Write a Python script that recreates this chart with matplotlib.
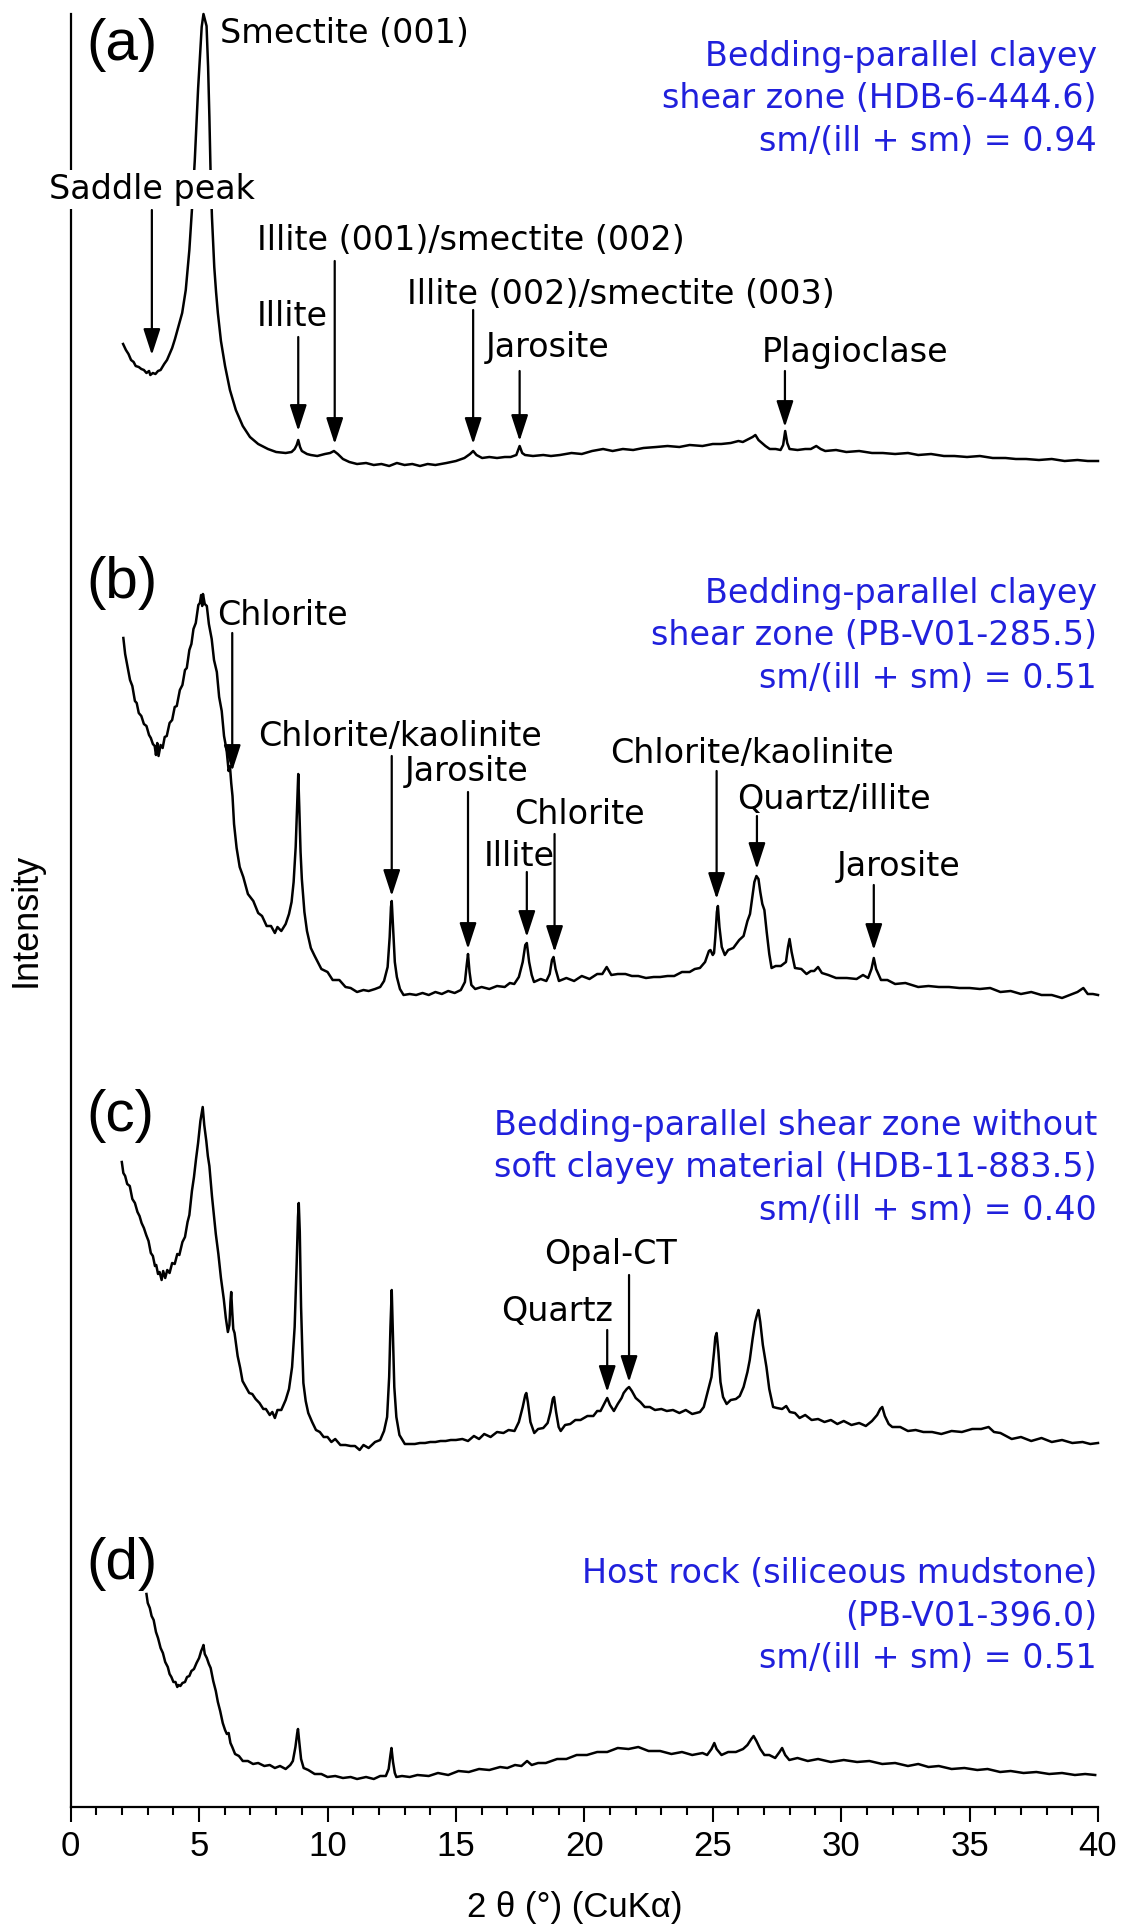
import matplotlib
matplotlib.use("Agg")
import matplotlib.pyplot as plt
from matplotlib.ticker import MultipleLocator

# ---------------- data (2-theta in degrees, stacked intensity in plot units) ----------------
PATTERN_A = [
    (2.04, 1463), (2.15, 1457), (2.25, 1453), (2.35, 1447), (2.45, 1445), (2.53, 1441), (2.65, 1440),
    (2.75, 1438), (2.85, 1437), (2.95, 1434), (3.05, 1436), (3.1, 1432), (3.2, 1434), (3.3, 1433),
    (3.4, 1436), (3.5, 1437), (3.64, 1443), (3.75, 1447), (3.85, 1453), (3.95, 1459), (4.06, 1468),
    (4.2, 1481), (4.34, 1494), (4.48, 1517), (4.62, 1557), (4.72, 1597), (4.83, 1646), (4.96, 1718),
    (5.10, 1780), (5.17, 1793), (5.29, 1781), (5.35, 1740), (5.40, 1690), (5.45, 1630), (5.5, 1590),
    (5.59, 1540), (5.66, 1515), (5.73, 1494), (5.85, 1466), (6.01, 1441), (6.2, 1417), (6.43, 1397),
    (6.7, 1381), (6.98, 1370), (7.3, 1363), (7.68, 1358), (8.0, 1355), (8.37, 1354), (8.6, 1355),
    (8.72, 1358), (8.8, 1362), (8.86, 1367), (8.93, 1360), (9.0, 1356), (9.2, 1353), (9.35, 1352),
    (9.6, 1351), (9.9, 1353), (10.1, 1354), (10.25, 1356), (10.4, 1353), (10.6, 1348), (10.85, 1345),
    (11.15, 1343), (11.5, 1344), (11.8, 1342), (12.1, 1343), (12.4, 1341), (12.7, 1344), (13.0, 1342),
    (13.3, 1343), (13.6, 1341), (13.9, 1343), (14.2, 1342), (14.63, 1344), (15.0, 1346), (15.33, 1349),
    (15.55, 1353), (15.67, 1356), (15.8, 1352), (16.02, 1349), (16.3, 1350), (16.6, 1349), (16.9, 1350),
    (17.13, 1350), (17.35, 1352), (17.48, 1361), (17.58, 1354), (17.69, 1352), (18.0, 1351), (18.4, 1352),
    (18.7, 1351), (19.05, 1352), (19.5, 1354), (19.9, 1353), (20.3, 1356), (20.73, 1358), (21.1, 1356),
    (21.5, 1358), (21.9, 1357), (22.3, 1359), (22.8, 1360), (23.24, 1361), (23.7, 1360), (24.1, 1362),
    (24.6, 1361), (25.0, 1363), (25.33, 1363), (25.7, 1364), (26.0, 1366), (26.17, 1365), (26.4, 1368),
    (26.55, 1370), (26.66, 1372), (26.78, 1367), (26.87, 1365), (27.05, 1361), (27.22, 1358), (27.45, 1358),
    (27.64, 1357), (27.74, 1362), (27.82, 1376), (27.9, 1364), (27.99, 1358), (28.3, 1357), (28.6, 1358),
    (28.82, 1358), (29.03, 1361), (29.2, 1358), (29.38, 1356), (29.8, 1357), (30.2, 1355), (30.7, 1356),
    (31.2, 1354), (31.62, 1354), (32.1, 1353), (32.6, 1354), (33.0, 1352), (33.5, 1353), (34.0, 1351),
    (34.41, 1351), (34.9, 1350), (35.4, 1351), (35.9, 1349), (36.4, 1349), (36.8, 1348), (37.2, 1348),
    (37.7, 1347), (38.2, 1348), (38.7, 1346), (39.2, 1347), (39.6, 1346), (40.0, 1346),
]

PATTERN_B = [
    (2.05, 1169), (2.12, 1153), (2.2, 1142), (2.31, 1127), (2.4, 1121), (2.5, 1106), (2.57, 1104),
    (2.65, 1094), (2.75, 1091), (2.85, 1083), (2.95, 1081), (3.05, 1072), (3.12, 1069), (3.2, 1063),
    (3.27, 1061), (3.32, 1052), (3.37, 1064), (3.42, 1051), (3.5, 1062), (3.58, 1059), (3.66, 1070),
    (3.74, 1071), (3.85, 1084), (3.95, 1087), (4.05, 1100), (4.13, 1101), (4.25, 1117), (4.35, 1122),
    (4.45, 1137), (4.52, 1139), (4.62, 1157), (4.7, 1163), (4.78, 1178), (4.87, 1184), (4.97, 1202),
    (5.03, 1204), (5.08, 1212), (5.12, 1201), (5.15, 1213), (5.22, 1203), (5.30, 1201), (5.38, 1183),
    (5.49, 1168), (5.58, 1147), (5.69, 1135), (5.78, 1110), (5.88, 1096), (5.97, 1071), (6.07, 1057),
    (6.15, 1036), (6.2, 1041), (6.25, 1024), (6.3, 1011), (6.36, 983), (6.46, 959), (6.58, 940),
    (6.72, 930), (6.9, 913), (7.11, 906), (7.3, 894), (7.45, 891), (7.63, 881), (7.8, 881), (7.95, 874),
    (8.05, 880), (8.2, 876), (8.37, 883), (8.5, 893), (8.6, 905), (8.68, 925), (8.76, 960), (8.82, 1005),
    (8.86, 1033), (8.9, 1000), (8.95, 955), (9.0, 928), (9.1, 895), (9.2, 876), (9.35, 859), (9.5, 851),
    (9.76, 838), (10.0, 835), (10.2, 827), (10.46, 827), (10.7, 820), (10.9, 819), (11.15, 815),
    (11.4, 817), (11.6, 816), (11.85, 818), (12.05, 820), (12.2, 826), (12.34, 840), (12.42, 870),
    (12.47, 900), (12.5, 906), (12.55, 880), (12.62, 845), (12.7, 830), (12.82, 818), (12.96, 812),
    (13.2, 813), (13.45, 812), (13.7, 814), (13.94, 812), (14.2, 815), (14.45, 813), (14.7, 816),
    (14.95, 814), (15.19, 817), (15.35, 825), (15.42, 842), (15.47, 853), (15.53, 835), (15.6, 822),
    (15.75, 818), (16.0, 820), (16.3, 818), (16.6, 821), (16.9, 820), (17.1, 824), (17.27, 823),
    (17.45, 830), (17.6, 845), (17.7, 862), (17.76, 864), (17.85, 845), (17.95, 832), (18.04, 825),
    (18.3, 828), (18.52, 826), (18.65, 833), (18.74, 847), (18.8, 850), (18.88, 838), (19.01, 826),
    (19.3, 829), (19.6, 826), (19.9, 831), (20.2, 828), (20.5, 833), (20.7, 833), (20.87, 840),
    (21.05, 832), (21.3, 833), (21.6, 833), (21.85, 831), (22.1, 831), (22.4, 829), (22.7, 830),
    (22.95, 830), (23.24, 831), (23.5, 831), (23.8, 835), (24.1, 835), (24.3, 838), (24.5, 839),
    (24.7, 845), (24.85, 856), (24.91, 857), (25.0, 852), (25.05, 854), (25.1, 870), (25.16, 895),
    (25.2, 901), (25.26, 880), (25.35, 860), (25.47, 852), (25.6, 857), (25.8, 859), (26.03, 867),
    (26.2, 871), (26.35, 886), (26.45, 893), (26.55, 912), (26.62, 925), (26.7, 931), (26.78, 928),
    (26.85, 915), (26.93, 903), (27.01, 897), (27.1, 875), (27.2, 853), (27.29, 839), (27.45, 841),
    (27.65, 841), (27.85, 845), (27.93, 860), (27.99, 868), (28.07, 855), (28.2, 839), (28.45, 838),
    (28.65, 833), (28.82, 836), (28.95, 836), (29.1, 840), (29.25, 834), (29.5, 832), (29.8, 829),
    (30.22, 829), (30.6, 828), (30.85, 832), (31.05, 829), (31.18, 838), (31.27, 849), (31.36, 838),
    (31.55, 827), (31.8, 827), (32.1, 823), (32.5, 824), (33.0, 820), (33.4, 821), (33.8, 820),
    (34.2, 820), (34.6, 819), (35.0, 819), (35.4, 818), (35.8, 819), (36.2, 815), (36.6, 816),
    (37.0, 813), (37.4, 815), (37.8, 812), (38.2, 812), (38.6, 809), (38.9, 812), (39.2, 815),
    (39.43, 819), (39.6, 813), (39.8, 813), (40.0, 812),
]

PATTERN_C = [
    (1.99, 645), (2.05, 634), (2.12, 631), (2.2, 623), (2.3, 621), (2.4, 608), (2.5, 604), (2.6, 595),
    (2.68, 591), (2.76, 584), (2.85, 579), (2.94, 572), (3.03, 566), (3.12, 554), (3.2, 551), (3.28, 541),
    (3.33, 542), (3.4, 533), (3.46, 535), (3.54, 527), (3.6, 536), (3.68, 529), (3.76, 537), (3.85, 534),
    (3.95, 544), (4.05, 543), (4.15, 553), (4.23, 552), (4.35, 565), (4.45, 570), (4.55, 585), (4.62, 592),
    (4.72, 616), (4.8, 630), (4.88, 648), (4.96, 664), (5.05, 686), (5.1, 694), (5.14, 700), (5.2, 682),
    (5.28, 666), (5.34, 651), (5.4, 641), (5.5, 611), (5.58, 591), (5.65, 573), (5.75, 553), (5.85, 529),
    (5.96, 508), (6.04, 489), (6.12, 475), (6.18, 482), (6.22, 505), (6.25, 515), (6.29, 495), (6.33, 478),
    (6.38, 474), (6.5, 451), (6.6, 439), (6.69, 426), (6.8, 421), (6.95, 414), (7.07, 413), (7.2, 408),
    (7.35, 404), (7.5, 398), (7.6, 398), (7.75, 392), (7.85, 395), (7.95, 389), (8.05, 397), (8.2, 397),
    (8.37, 407), (8.5, 418), (8.62, 440), (8.72, 480), (8.8, 545), (8.85, 590), (8.88, 604), (8.92, 575),
    (8.97, 500), (9.02, 455), (9.06, 424), (9.15, 406), (9.25, 394), (9.4, 385), (9.55, 377), (9.7, 375),
    (9.85, 370), (10.0, 370), (10.15, 365), (10.3, 368), (10.5, 362), (10.7, 362), (10.9, 361),
    (11.07, 361), (11.25, 357), (11.4, 362), (11.6, 359), (11.85, 365), (12.05, 367), (12.2, 376),
    (12.32, 390), (12.4, 430), (12.45, 480), (12.5, 517), (12.55, 470), (12.6, 420), (12.68, 390),
    (12.8, 372), (13.01, 363), (13.2, 363), (13.4, 363), (13.6, 364), (13.8, 364), (14.0, 365),
    (14.2, 365), (14.4, 366), (14.6, 366), (14.8, 367), (15.0, 367), (15.25, 368), (15.47, 366),
    (15.7, 371), (15.9, 368), (16.1, 373), (16.35, 370), (16.6, 375), (16.85, 374), (17.05, 377),
    (17.28, 376), (17.45, 385), (17.6, 400), (17.7, 412), (17.74, 414), (17.8, 405), (17.9, 385),
    (18.05, 374), (18.2, 378), (18.4, 379), (18.57, 384), (18.68, 395), (18.77, 408), (18.82, 410),
    (18.9, 395), (19.0, 380), (19.08, 376), (19.25, 382), (19.45, 383), (19.65, 387), (19.85, 387),
    (20.12, 391), (20.35, 391), (20.5, 396), (20.63, 396), (20.75, 402), (20.89, 409), (21.0, 402),
    (21.15, 396), (21.3, 403), (21.45, 409), (21.53, 414), (21.65, 418), (21.74, 420), (21.85, 416),
    (22.0, 409), (22.18, 405), (22.35, 400), (22.55, 400), (22.75, 397), (23.0, 398), (23.21, 396),
    (23.45, 397), (23.7, 394), (23.95, 397), (24.2, 393), (24.5, 395), (24.65, 400), (24.8, 415),
    (24.89, 424), (24.95, 430), (25.05, 455), (25.1, 470), (25.15, 474), (25.22, 455), (25.3, 425),
    (25.4, 410), (25.54, 403), (25.7, 407), (25.9, 408), (26.05, 411), (26.2, 420), (26.35, 435),
    (26.44, 447), (26.55, 468), (26.65, 485), (26.72, 492), (26.78, 497), (26.85, 485), (26.95, 462),
    (27.09, 440), (27.2, 418), (27.35, 400), (27.5, 399), (27.7, 398), (27.86, 401), (28.0, 395),
    (28.2, 394), (28.38, 389), (28.6, 392), (28.85, 387), (29.1, 388), (29.35, 385), (29.6, 387),
    (29.85, 383), (30.1, 386), (30.4, 382), (30.7, 384), (30.96, 381), (31.2, 386), (31.4, 392),
    (31.52, 398), (31.6, 400), (31.7, 391), (31.85, 383), (31.99, 380), (32.3, 380), (32.6, 376),
    (32.9, 377), (33.2, 375), (33.54, 375), (33.9, 373), (34.3, 376), (34.7, 375), (35.1, 378),
    (35.45, 378), (35.74, 380), (35.95, 375), (36.2, 374), (36.64, 368), (37.0, 370), (37.4, 366),
    (37.8, 369), (38.2, 365), (38.6, 367), (39.0, 364), (39.4, 365), (39.7, 363), (40.0, 364),
]

PATTERN_D = [
    (2.95, 213), (3.0, 204), (3.08, 199), (3.15, 191), (3.23, 187), (3.32, 175), (3.4, 169), (3.5, 159),
    (3.59, 154), (3.68, 145), (3.78, 140), (3.85, 133), (3.92, 130), (4.0, 125), (4.08, 125), (4.15, 120),
    (4.2, 122), (4.27, 121), (4.35, 124), (4.45, 125), (4.53, 130), (4.62, 131), (4.7, 136), (4.8, 138),
    (4.9, 144), (5.0, 149), (5.08, 156), (5.13, 159), (5.17, 162), (5.22, 153), (5.3, 149), (5.38, 143),
    (5.45, 139), (5.55, 126), (5.65, 116), (5.73, 105), (5.82, 96), (5.92, 84), (6.01, 77), (6.08, 73),
    (6.15, 74), (6.22, 64), (6.29, 60), (6.4, 53), (6.55, 51), (6.7, 46), (6.9, 46), (7.1, 43), (7.3, 44),
    (7.54, 41), (7.75, 42), (7.95, 39), (8.15, 41), (8.37, 38), (8.55, 42), (8.65, 46), (8.75, 60),
    (8.82, 74), (8.85, 78), (8.9, 65), (8.97, 48), (9.07, 39), (9.25, 37), (9.5, 33), (9.76, 33),
    (10.0, 30), (10.3, 31), (10.6, 29), (10.9, 30), (11.15, 28), (11.5, 30), (11.8, 28), (12.05, 31),
    (12.27, 31), (12.38, 38), (12.45, 52), (12.49, 59), (12.55, 45), (12.62, 34), (12.68, 30),
    (12.9, 31), (13.2, 30), (13.5, 32), (13.94, 31), (14.3, 34), (14.7, 32), (15.1, 36), (15.5, 35),
    (15.9, 38), (16.3, 37), (16.72, 40), (17.0, 39), (17.3, 42), (17.55, 41), (17.77, 46), (17.95, 42),
    (18.2, 44), (18.5, 44), (18.94, 48), (19.3, 48), (19.7, 52), (20.1, 52), (20.5, 55), (20.89, 55),
    (21.3, 59), (21.72, 58), (22.1, 60), (22.5, 56), (22.95, 56), (23.39, 53), (23.8, 55), (24.2, 52),
    (24.6, 54), (24.78, 52), (24.95, 58), (25.06, 64), (25.15, 58), (25.34, 52), (25.6, 55), (25.9, 55),
    (26.18, 58), (26.35, 62), (26.5, 68), (26.59, 71), (26.7, 66), (26.85, 58), (27.01, 52), (27.2, 52),
    (27.43, 49), (27.6, 55), (27.7, 59), (27.82, 52), (27.98, 47), (28.3, 49), (28.7, 46), (29.1, 48),
    (29.6, 45), (30.1, 47), (30.62, 45), (31.1, 46), (31.6, 43), (32.1, 44), (32.6, 41), (33.0, 43),
    (33.4, 40), (33.8, 41), (34.3, 38), (34.8, 39), (35.3, 37), (35.7, 38), (36.19, 35), (36.6, 36),
    (37.1, 34), (37.6, 35), (38.1, 33), (38.6, 34), (39.1, 32), (39.5, 33), (39.89, 32),
]

PATTERNS = [PATTERN_A, PATTERN_B, PATTERN_C, PATTERN_D]
PANEL_LABELS = ["(a)", "(b)", "(c)", "(d)"]
SAMPLE_TEXT = [
    ["Bedding-parallel clayey", "shear zone (HDB-6-444.6)", "sm/(ill + sm) = 0.94"],
    ["Bedding-parallel clayey", "shear zone (PB-V01-285.5)", "sm/(ill + sm) = 0.51"],
    ["Bedding-parallel shear zone without", "soft clayey material (HDB-11-883.5)", "sm/(ill + sm) = 0.40"],
    ["Host rock (siliceous mudstone)", "(PB-V01-396.0)", "sm/(ill + sm) = 0.51"],
]
# peak markers: (2-theta, arrow tail, arrow tip) in data units
PEAK_ARROWS = [
    (3.16, 1597, 1452), (8.86, 1470, 1376), (10.28, 1546, 1363), (15.67, 1497, 1363),
    (17.48, 1436, 1366), (27.81, 1436, 1380),
    (6.29, 1174, 1036), (12.5, 1051, 911), (15.47, 1015, 858), (17.76, 935, 870),
    (18.84, 973, 855), (25.15, 1036, 908), (26.72, 991, 938), (31.27, 922, 857),
    (20.89, 477, 415), (21.74, 532, 425),
]
# mineral labels: (text, left px, baseline px from top)
MINERAL_LABELS = [
    ("Smectite (001)", 220, 43),
    ("Illite (001)/smectite (002)", 257, 250),
    ("Illite", 257, 326),
    ("Illite (002)/smectite (003)", 407, 304),
    ("Jarosite", 486, 357),
    ("Plagioclase", 762, 362),
    ("Chlorite", 217, 625),
    ("Chlorite/kaolinite", 258, 746),
    ("Jarosite", 405, 781),
    ("Chlorite", 514, 824),
    ("Illite", 484, 866),
    ("Chlorite/kaolinite", 610, 763),
    ("Quartz/illite", 737, 809),
    ("Jarosite", 837, 876),
    ("Quartz", 501, 1321),
    ("Opal-CT", 544, 1264),
]
X_TICKS = [0, 5, 10, 15, 20, 25, 30, 35, 40]

# ---------------- layout ----------------
W, H = 1122, 1925
AX_L, AX_R, AX_B, AX_T = 70.7, 1098.0, 1807.0, 14.0
PANEL_BASELINES = [60, 598, 1131, 1579]
SAMPLE_BASELINES = [[66, 108.5, 151], [603, 645.5, 688], [1135, 1177.5, 1220], [1583, 1625.5, 1668]]
BLUE = "#2020dc"
ANNO_FONT = "DejaVu Sans"
ANNO_SIZE = 24

plt.rcParams["font.family"] = ["Liberation Sans", "DejaVu Sans"]

fig = plt.figure(figsize=(W / 100, H / 100), dpi=100)
ax = fig.add_axes([AX_L / W, (H - AX_B) / H, (AX_R - AX_L) / W, (AX_B - AX_T) / H])
ax.set_xlim(0, 40)
ax.set_ylim(0, AX_B - AX_T)


def fx(px):
    return px / W


def fy(py):
    return 1 - py / H


for pat in PATTERNS:
    xs = [p[0] for p in pat]
    ys = [p[1] for p in pat]
    ax.plot(xs, ys, color="black", lw=1.8, clip_on=False, zorder=3)

for x, tail, tip in PEAK_ARROWS:
    ax.annotate("", xy=(x, tip), xytext=(x, tail),
                arrowprops=dict(arrowstyle="-|>,head_length=0.8,head_width=0.26",
                                mutation_scale=20, lw=1.6, color="black",
                                shrinkA=0, shrinkB=0), zorder=4)

for text, lx, by in MINERAL_LABELS:
    fig.text(fx(lx), fy(by), text, ha="left", va="baseline",
             fontsize=ANNO_SIZE, family=ANNO_FONT, color="black")

# Saddle peak label with white background (interrupts axis and peak)
fig.text(fx(151.8), fy(199), "Saddle peak", ha="center", va="baseline",
         fontsize=ANNO_SIZE, family=ANNO_FONT, color="black",
         bbox=dict(facecolor="white", edgecolor="none", pad=2.5), zorder=10)

for lab, by in zip(PANEL_LABELS, PANEL_BASELINES):
    fig.text(fx(86), fy(by), lab, ha="left", va="baseline", fontsize=42,
             family="Liberation Sans", color="black")

for lines, bls in zip(SAMPLE_TEXT, SAMPLE_BASELINES):
    for s, by in zip(lines, bls):
        fig.text(fx(1097), fy(by), s, ha="right", va="baseline",
                 fontsize=ANNO_SIZE, family=ANNO_FONT, color=BLUE)

# axes styling
for side in ["top", "right"]:
    ax.spines[side].set_visible(False)
for side in ["left", "bottom"]:
    ax.spines[side].set_linewidth(1.6)
ax.set_yticks([])
ax.xaxis.set_major_locator(MultipleLocator(5))
ax.xaxis.set_minor_locator(MultipleLocator(1))
ax.set_xticks(X_TICKS)
ax.set_xticklabels([str(t) for t in X_TICKS])
ax.tick_params(axis="x", which="major", direction="out", length=10.8, width=1.5,
               labelsize=25, pad=5.5)
ax.tick_params(axis="x", which="minor", direction="out", length=5.5, width=1.5)

ax.set_xlabel("2 \u03b8 (\u00b0) (CuK\u03b1)", fontsize=25)
ax.xaxis.set_label_coords((575 - AX_L) / (AX_R - AX_L), -(1917 - AX_B) / (AX_B - AX_T))
ax.xaxis.label.set_va("baseline")
ax.set_ylabel("Intensity", fontsize=26)
ax.yaxis.set_label_coords((26.5 - AX_L) / (AX_R - AX_L), (AX_B - 920) / (AX_B - AX_T))
ax.yaxis.label.set_va("center")

fig.savefig("out.png", dpi=100)
